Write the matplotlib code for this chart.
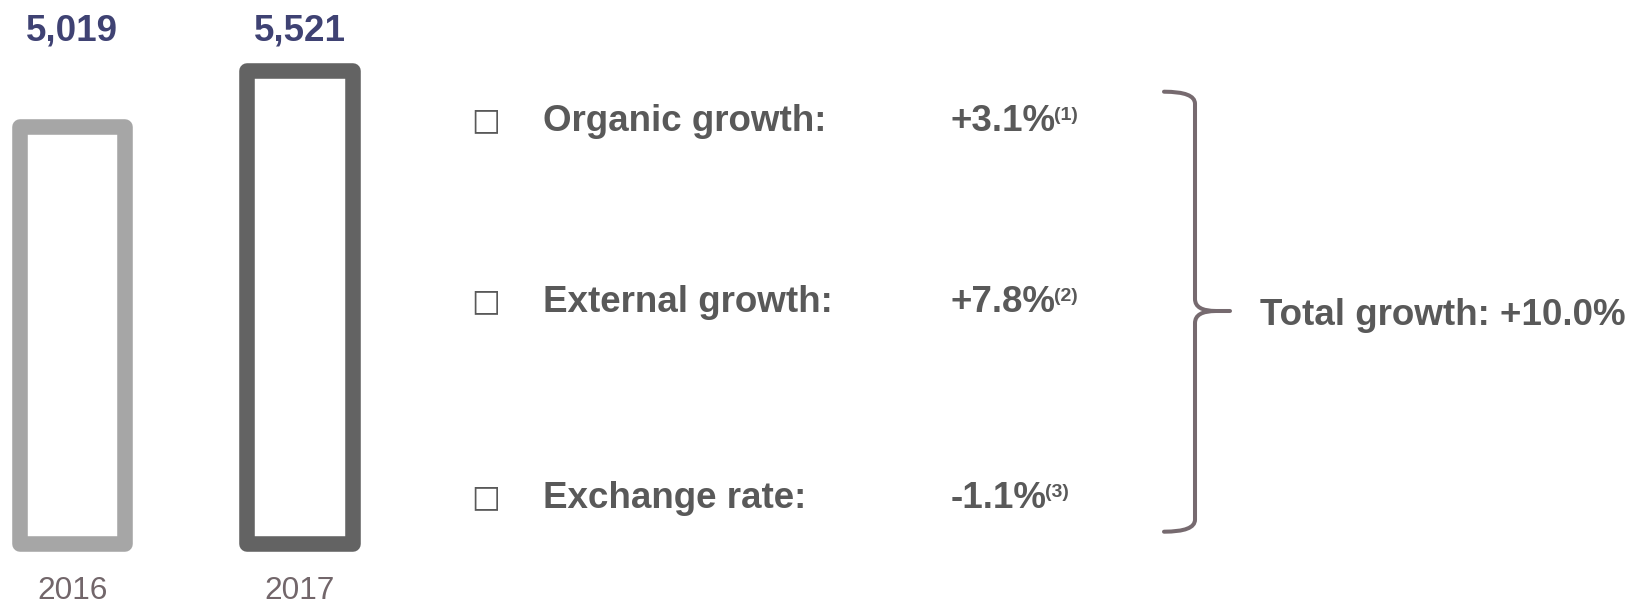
import matplotlib
matplotlib.use('Agg')
import matplotlib.pyplot as plt
from matplotlib.path import Path
from matplotlib.patches import PathPatch

plt.rcParams['font.family'] = ['Liberation Sans', 'DejaVu Sans']

# data
years = ['2016', '2017']
sales = [5019, 5521]
bar_colors = ['#A6A6A6', '#636363']

drivers = ['Organic growth:', 'External growth:', 'Exchange rate:']
driver_values = ['+3.1%', '+7.8%', '-1.1%']
driver_notes = ['(1)', '(2)', '(3)']
total_label = 'Total growth: +10.0%'

# style
text_grey = '#595959'
label_blue = '#3F4273'
year_col = '#72666A'
brace_col = '#766A6F'
bar_floor = 1320

fig = plt.figure(figsize=(16.35, 6.06), dpi=100)

# bars
ax = fig.add_axes([0, 0, 0.25, 1])
ax.set_xlim(-0.3172, 1.4775)
ax.set_ylim(769, 6151)
ax.axis('off')
x = range(len(years))
ax.bar(x, [v - bar_floor for v in sales], bottom=bar_floor, width=0.463,
       facecolor='white', edgecolor=bar_colors, linewidth=11.2,
       joinstyle='round')
for i, v in enumerate(sales):
    ax.text(i, 0.9328, f'{v:,}', transform=ax.get_xaxis_transform(),
            ha='center', va='baseline', fontsize=26.5, fontweight='bold',
            color=label_blue)
    ax.text(i, 0.0, years[i], transform=ax.get_xaxis_transform(),
            ha='center', va='bottom', fontsize=22.8, color=year_col)

# right part in pixel coords
ax2 = fig.add_axes([0, 0, 1, 1])
ax2.set_xlim(0, 1635)
ax2.set_ylim(606, 0)
ax2.axis('off')

row_y = [131, 312, 508]
renderer = fig.canvas.get_renderer()
for k in range(len(drivers)):
    y = row_y[k]
    ax2.text(471, y - 10.5, '\u25a1', family='DejaVu Sans', fontsize=22,
             fontweight='bold', ha='left', va='center', color=text_grey)
    ax2.text(543, y, drivers[k], ha='left', va='baseline', fontsize=26.5,
             fontweight='bold', color=text_grey)
    t = ax2.text(951, y, driver_values[k], ha='left', va='baseline',
                 fontsize=26.5, fontweight='bold', color=text_grey)
    bb = t.get_window_extent(renderer=renderer)
    ax2.text(bb.x1 - 2, y - 11, driver_notes[k], ha='left', va='baseline',
             fontsize=14, fontweight='bold', color=text_grey,
             fontstretch='condensed')

# brace
top, bot, mid = 91.7, 531.7, 311
xl, xe, xt = 1195, 1164, 1230
verts = [(xe, top), (xl, top), (xl, top + 12),
         (xl, mid - 12), (xl, mid), (xt - 14, mid),
         (xt, mid),
         (xt - 14, mid), (xl, mid), (xl, mid + 12),
         (xl, bot - 12), (xl, bot), (xe, bot)]
codes = [Path.MOVETO, Path.CURVE3, Path.CURVE3,
         Path.LINETO, Path.CURVE3, Path.CURVE3,
         Path.LINETO,
         Path.MOVETO, Path.CURVE3, Path.CURVE3,
         Path.LINETO, Path.CURVE3, Path.CURVE3]
ax2.add_patch(PathPatch(Path(verts, codes), facecolor='none',
                        edgecolor=brace_col, linewidth=2.9,
                        capstyle='round', joinstyle='round'))
ax2.text(1260, 325, total_label, ha='left', va='baseline', fontsize=26.5,
         fontweight='bold', color=text_grey)

fig.savefig('out.png', dpi=100, facecolor='white')
